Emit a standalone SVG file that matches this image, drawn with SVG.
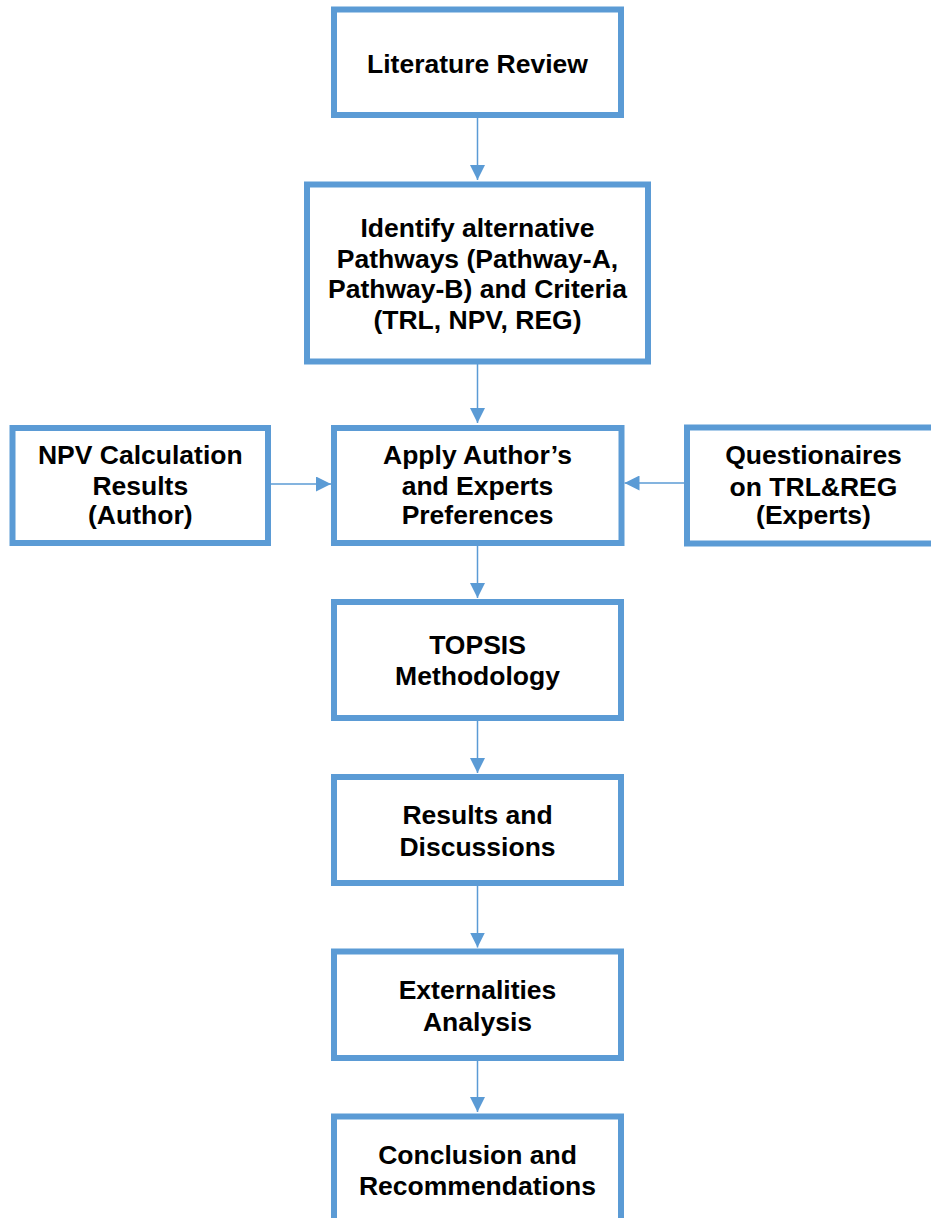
<svg xmlns="http://www.w3.org/2000/svg" width="931" height="1218" viewBox="0 0 931 1218">
  <defs>
    <style>
      .box { fill: #ffffff; stroke: #5B9BD5; stroke-width: 6; }
      .link { stroke: #5B9BD5; stroke-width: 1.5; fill: none; }
      .label { font-family: "Liberation Sans", Arial, sans-serif; font-weight: bold; font-size: 26.5px; fill: #000000; text-anchor: middle; }
    </style>
    <marker id="arrow" markerUnits="userSpaceOnUse" markerWidth="15" markerHeight="15" refX="15" refY="7.5" orient="auto">
      <path d="M0,0 L15,7.5 L0,15 Z" fill="#5B9BD5"/>
    </marker>
  </defs>
  <rect width="931" height="1218" fill="#ffffff"/>

  <g id="connectors">
    <line class="link" x1="477.5" y1="115" x2="477.5" y2="180" marker-end="url(#arrow)"/>
    <line class="link" x1="477.5" y1="361" x2="477.5" y2="423" marker-end="url(#arrow)"/>
    <line class="link" x1="477.5" y1="543" x2="477.5" y2="598" marker-end="url(#arrow)"/>
    <line class="link" x1="477.5" y1="718" x2="477.5" y2="773" marker-end="url(#arrow)"/>
    <line class="link" x1="477.5" y1="883" x2="477.5" y2="947.5" marker-end="url(#arrow)"/>
    <line class="link" x1="477.5" y1="1058" x2="477.5" y2="1112" marker-end="url(#arrow)"/>
    <line class="link" x1="268" y1="484" x2="331" y2="484" marker-end="url(#arrow)"/>
    <line class="link" x1="687" y1="483" x2="624.5" y2="483" marker-end="url(#arrow)"/>
  </g>

  <g id="literature-review">
    <rect class="box" x="334" y="9.5" width="287" height="105.5"/>
    <text class="label" x="477.5" y="72.5">Literature Review</text>
  </g>

  <g id="identify-pathways">
    <rect class="box" x="307" y="184.5" width="341" height="177"/>
    <text class="label" x="477.5" y="237">Identify alternative</text>
    <text class="label" x="477.5" y="267.5">Pathways (Pathway-A,</text>
    <text class="label" x="477.5" y="298">Pathway-B) and Criteria</text>
    <text class="label" x="477.5" y="329">(TRL, NPV, REG)</text>
  </g>

  <g id="npv-results">
    <rect class="box" x="12.5" y="428" width="255.5" height="115"/>
    <text class="label" x="140.3" y="464">NPV Calculation</text>
    <text class="label" x="140.3" y="494.5">Results</text>
    <text class="label" x="140.3" y="524">(Author)</text>
  </g>

  <g id="apply-preferences">
    <rect class="box" x="334" y="428" width="287.5" height="115"/>
    <text class="label" x="477.5" y="464">Apply Author’s</text>
    <text class="label" x="477.5" y="494.5">and Experts</text>
    <text class="label" x="477.5" y="524">Preferences</text>
  </g>

  <g id="questionnaires">
    <rect class="box" x="687" y="427.5" width="254" height="116"/>
    <text class="label" x="813.5" y="464">Questionaires</text>
    <text class="label" x="813.5" y="495.5">on TRL&amp;REG</text>
    <text class="label" x="813.5" y="524">(Experts)</text>
  </g>

  <g id="topsis">
    <rect class="box" x="334" y="602" width="287" height="116"/>
    <text class="label" x="477.5" y="654">TOPSIS</text>
    <text class="label" x="477.5" y="685">Methodology</text>
  </g>

  <g id="results-discussions">
    <rect class="box" x="334" y="777" width="287" height="106"/>
    <text class="label" x="477.5" y="824">Results and</text>
    <text class="label" x="477.5" y="855.5">Discussions</text>
  </g>

  <g id="externalities">
    <rect class="box" x="334" y="951.5" width="287" height="106.5"/>
    <text class="label" x="477.5" y="999">Externalities</text>
    <text class="label" x="477.5" y="1030.5">Analysis</text>
  </g>

  <g id="conclusion">
    <rect class="box" x="334" y="1116.5" width="287" height="130"/>
    <text class="label" x="477.5" y="1163.5">Conclusion and</text>
    <text class="label" x="477.5" y="1195">Recommendations</text>
  </g>
</svg>
